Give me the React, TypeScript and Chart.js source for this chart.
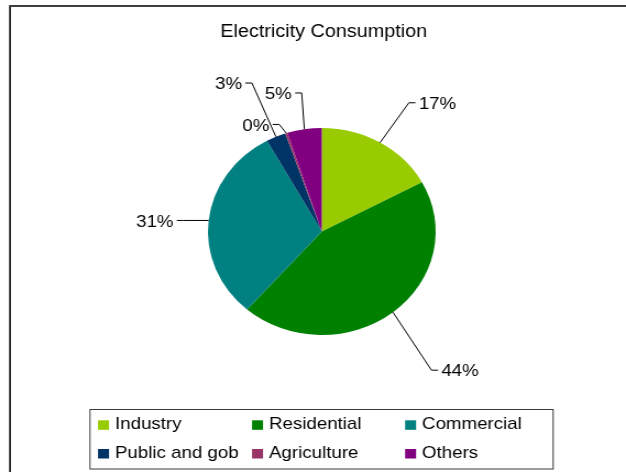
import React, { useEffect, useRef } from "react";
import { Chart, registerables } from "chart.js";

Chart.register(...registerables);

const TITLE = "Electricity Consumption";
const categories = ["Industry", "Residential", "Commercial", "Public and gob", "Agriculture", "Others"];
const shares = [17.1, 44.3, 30.6, 2.8, 0.3, 4.9];
const colors = ["#99CC00", "#008000", "#008080", "#003366", "#993366", "#800080"];
// leader-line reach per slice (multiple of pie radius) and angular nudge in degrees (style only)
const leaderReach = [1.46, 1.65, 1.22, 1.56, 1.1, 1.35];
const leaderNudge = [0.8, 3, -1.1, 0.6, -1.7, 1.3];

const W = 626;
const H = 472;
const SX = 1.1; // the reference is stretched horizontally
const IW = Math.round(W / SX);
const FONT = '"Liberation Sans", Arial, Helvetica, sans-serif';

const decorPlugin = {
  id: "decor",
  afterDraw(chart: any) {
    const ctx: CanvasRenderingContext2D = chart.ctx;
    ctx.save();
    // outer frame
    ctx.strokeStyle = "#2a2a2a";
    ctx.lineWidth = 1.8;
    ctx.strokeRect(9.1, 6, IW + 40, H + 40);

    // title
    ctx.fillStyle = "#000";
    ctx.font = `18px ${FONT}`;
    ctx.textAlign = "center";
    ctx.textBaseline = "alphabetic";
    ctx.fillText(TITLE, 294.3, 36.6);

    // leader lines + labels
    const meta = chart.getDatasetMeta(0);
    const ls = 17;
    ctx.font = `${ls}px ${FONT}`;
    ctx.strokeStyle = "#000";
    ctx.lineWidth = 1;
    meta.data.forEach((arc: any, i: number) => {
      const p = arc.getProps(["x", "y", "startAngle", "endAngle", "outerRadius"], true);
      const a = (p.startAngle + p.endAngle) / 2;
      const b = a + (leaderNudge[i] * Math.PI) / 180;
      const x0 = p.x + Math.cos(a) * p.outerRadius;
      const y0 = p.y + Math.sin(a) * p.outerRadius;
      const x1 = p.x + Math.cos(b) * p.outerRadius * leaderReach[i];
      const y1 = p.y + Math.sin(b) * p.outerRadius * leaderReach[i];
      const right = x1 >= p.x;
      const x2 = x1 + (right ? 6 : -6);
      ctx.beginPath();
      ctx.moveTo(x0, y0);
      ctx.lineTo(x1, y1);
      ctx.lineTo(x2, y1);
      ctx.stroke();
      ctx.textAlign = right ? "left" : "right";
      ctx.fillText(`${Math.round(shares[i])}%`, x2 + (right ? 3 : -3), y1 + 0.358 * ls);
    });

    // legend
    ctx.strokeStyle = "#3a3a3a";
    ctx.lineWidth = 1;
    ctx.strokeRect(81.8, 409.5, 421, 59.5);
    const colX = [89.1, 229.1, 368.2];
    const rowY = [429.3, 458];
    ctx.font = `17px ${FONT}`;
    ctx.textAlign = "left";
    categories.forEach((c, i) => {
      const cx = colX[i % 3];
      const by = rowY[Math.floor(i / 3)];
      ctx.fillStyle = colors[i];
      ctx.fillRect(cx, by - 9, 10, 9.5);
      ctx.fillStyle = "#000";
      ctx.fillText(c, cx + 15.4, by);
    });
    ctx.restore();
  },
};

export default function App() {
  const ref = useRef<HTMLCanvasElement | null>(null);
  useEffect(() => {
    if (!ref.current) return;
    const chart = new Chart(ref.current, {
      type: "pie",
      data: {
        labels: categories,
        datasets: [
          {
            data: shares,
            backgroundColor: colors,
            borderWidth: 0,
          },
        ],
      },
      options: {
        responsive: false,
        animation: false,
        layout: { padding: { left: 189, right: 173, top: 128, bottom: 137 } },
        plugins: {
          legend: { display: false },
          title: { display: false },
          tooltip: { enabled: false },
        },
      },
      plugins: [decorPlugin],
    });
    return () => chart.destroy();
  }, []);
  return (
    <div style={{ position: "fixed", left: 0, top: 0, width: W, height: H, background: "#fff" }}>
      <canvas
        ref={ref}
        width={IW}
        height={H}
        style={{ width: `${W}px`, height: `${H}px`, display: "block" }}
      />
    </div>
  );
}
